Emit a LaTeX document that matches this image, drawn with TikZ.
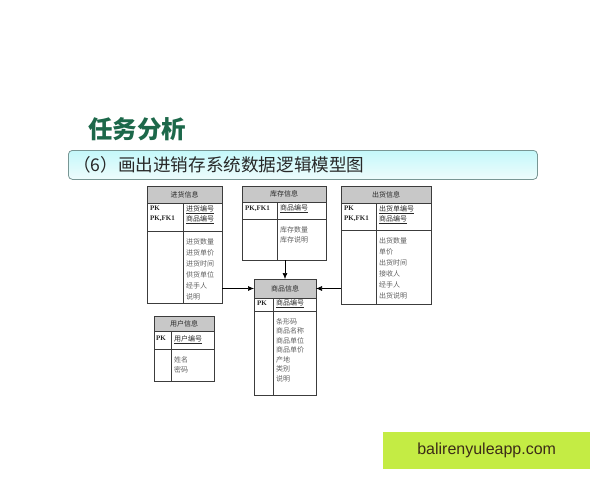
\documentclass[tikz,border=0pt]{standalone}
\usepackage{fontspec}
\setmainfont{Liberation Serif}
\newfontfamily\cjk{Noto Sans CJK SC}
\newfontfamily\wmfont{Liberation Sans}
\usetikzlibrary{arrows.meta, positioning}
\definecolor{linegray}{RGB}{60,60,60}
\definecolor{hdgray}{RGB}{200,200,200}
\definecolor{txtdark}{RGB}{40,40,40}
\definecolor{txtgray}{RGB}{95,95,95}
\definecolor{titlegreen}{RGB}{28,104,74}
\definecolor{bandline}{RGB}{120,150,148}
\definecolor{bandtop}{RGB}{196,248,250}
\definecolor{bandbot}{RGB}{238,252,252}
\definecolor{wmgreen}{RGB}{196,236,68}
\definecolor{wmtext}{RGB}{60,44,24}
\tikzset
{%
head/.style={draw=linegray, fill=hdgray, outer sep=0pt, inner sep=0pt, anchor=north west, text=txtdark, font=\cjk\fontsize{7}{8}\selectfont},
cell/.style={draw=linegray, outer sep=0pt, inner sep=0pt},
keyt/.style={anchor=north west, inner xsep=3pt, inner ysep=3pt, align=left, text=txtdark, font=\bfseries\fontsize{7}{9.5}\selectfont},
idt/.style={anchor=north west, inner xsep=3pt, inner ysep=2.5pt, align=left, text=txtdark, font=\cjk\fontsize{7}{10}\selectfont},
attrt/.style={anchor=north west, inner xsep=3pt, inner ysep=7pt, align=left, text=txtgray, font=\cjk\fontsize{7}{#1}\selectfont},
attrt/.default=10,
band/.style={draw=bandline, line width=0.8pt, rounded corners=4pt, top color=bandtop, bottom color=bandbot, anchor=north west},
link/.style={->, line width=0.6pt, draw=black}
}

\begin{document}
\begin{tikzpicture}[x=1pt, y=-1pt, >={Latex[length=6pt, width=5pt]}]
	\useasboundingbox (0,0) rectangle (600,480);

	% title and banner
	\node[anchor=west, inner sep=0pt, text=titlegreen, font=\cjk\bfseries\fontsize{24.5}{26}\selectfont] (ttl) at (88,129.5) {任务分析};
	\node[band, minimum width=469pt, minimum height=29pt] (bnd) at (68,150) {};
	\node[anchor=west, inner sep=0pt, text=txtdark, font=\cjk\fontsize{17.6}{19}\selectfont] (sub) at (73,165) {（6）画出进销存系统数据逻辑模型图};

	\begin{scope}[shift={(147,186)}]
		\node[head, minimum width=75pt, minimum height=17pt] (jh) at (0,0) {进货信息};
		\node[cell, minimum width=36pt, minimum height=28pt, below right=0pt of jh.south west] (jh-pk) {};
		\node[cell, minimum width=39pt, minimum height=28pt, right=0pt of jh-pk] (jh-id) {};
		\node[cell, minimum width=36pt, minimum height=72pt, below=0pt of jh-pk] (jh-col) {};
		\node[cell, minimum width=39pt, minimum height=72pt, right=0pt of jh-col] (jh-attr) {};
		\node[keyt] (jh-pkt) at (jh-pk.north west) {PK\\PK,FK1};
		\node[idt] (jh-idt) at (jh-id.north west) {\underline{进货编号}\\\underline{商品编号}};
		\node[attrt=11] (jh-attrt) at (jh-attr.north west) {进货数量\\进货单价\\进货时间\\供货单位\\经手人\\说明};
	\end{scope}

	\begin{scope}[shift={(242,186)}]
		\node[head, minimum width=84pt, minimum height=16pt] (kc) at (0,0) {库存信息};
		\node[cell, minimum width=35pt, minimum height=17pt, below right=0pt of kc.south west] (kc-pk) {};
		\node[cell, minimum width=49pt, minimum height=17pt, right=0pt of kc-pk] (kc-id) {};
		\node[cell, minimum width=35pt, minimum height=41pt, below=0pt of kc-pk] (kc-col) {};
		\node[cell, minimum width=49pt, minimum height=41pt, right=0pt of kc-col] (kc-attr) {};
		\node[keyt, inner ysep=4pt] (kc-pkt) at (kc-pk.north west) {PK,FK1};
		\node[idt] (kc-idt) at (kc-id.north west) {\underline{商品编号}};
		\node[attrt=10] (kc-attrt) at (kc-attr.north west) {库存数量\\库存说明};
	\end{scope}

	\begin{scope}[shift={(341,186)}]
		\node[head, minimum width=90pt, minimum height=17pt] (ch) at (0,0) {出货信息};
		\node[cell, minimum width=35pt, minimum height=27pt, below right=0pt of ch.south west] (ch-pk) {};
		\node[cell, minimum width=55pt, minimum height=27pt, right=0pt of ch-pk] (ch-id) {};
		\node[cell, minimum width=35pt, minimum height=74pt, below=0pt of ch-pk] (ch-col) {};
		\node[cell, minimum width=55pt, minimum height=74pt, right=0pt of ch-col] (ch-attr) {};
		\node[keyt] (ch-pkt) at (ch-pk.north west) {PK\\PK,FK1};
		\node[idt] (ch-idt) at (ch-id.north west) {\underline{出货单编号}\\\underline{商品编号}};
		\node[attrt=11] (ch-attrt) at (ch-attr.north west) {出货数量\\单价\\出货时间\\接收人\\经手人\\出货说明};
	\end{scope}

	\begin{scope}[shift={(254,279)}]
		\node[head, minimum width=62pt, minimum height=19pt] (sp) at (0,0) {商品信息};
		\node[cell, minimum width=19pt, minimum height=13pt, below right=0pt of sp.south west] (sp-pk) {};
		\node[cell, minimum width=43pt, minimum height=13pt, right=0pt of sp-pk] (sp-id) {};
		\node[cell, minimum width=19pt, minimum height=84pt, below=0pt of sp-pk] (sp-col) {};
		\node[cell, minimum width=43pt, minimum height=84pt, right=0pt of sp-col] (sp-attr) {};
		\node[keyt, inner ysep=2.5pt] (sp-pkt) at (sp-pk.north west) {PK};
		\node[idt, inner ysep=1.5pt] (sp-idt) at (sp-id.north west) {\underline{商品编号}};
		\node[attrt=9.5] (sp-attrt) at (sp-attr.north west) {条形码\\商品名称\\商品单位\\商品单价\\产地\\类别\\说明};
	\end{scope}

	\begin{scope}[shift={(154,316)}]
		\node[head, minimum width=60pt, minimum height=15pt] (yh) at (0,0) {用户信息};
		\node[cell, minimum width=17pt, minimum height=18pt, below right=0pt of yh.south west] (yh-pk) {};
		\node[cell, minimum width=43pt, minimum height=18pt, right=0pt of yh-pk] (yh-id) {};
		\node[cell, minimum width=17pt, minimum height=32pt, below=0pt of yh-pk] (yh-col) {};
		\node[cell, minimum width=43pt, minimum height=32pt, right=0pt of yh-col] (yh-attr) {};
		\node[keyt, inner xsep=2pt, inner ysep=5pt] (yh-pkt) at (yh-pk.north west) {PK};
		\node[idt, inner ysep=4pt] (yh-idt) at (yh-id.north west) {\underline{用户编号}};
		\node[attrt=10] (yh-attrt) at (yh-attr.north west) {姓名\\密码};
	\end{scope}

	\draw[link] (sp.north |- kc-attr.south) -- (sp.north);
	\draw[link] (sp.west -| jh-attr.east) -- (sp.west);
	\draw[link] (sp.east -| ch-col.west) -- (sp.east);

	% watermark
	\node[anchor=north west, fill=wmgreen, minimum width=207pt, minimum height=37pt, text=wmtext, font=\wmfont\fontsize{16}{18}\selectfont] (wmk) at (383,432) {balirenyuleapp.com};
\end{tikzpicture}
\end{document}
